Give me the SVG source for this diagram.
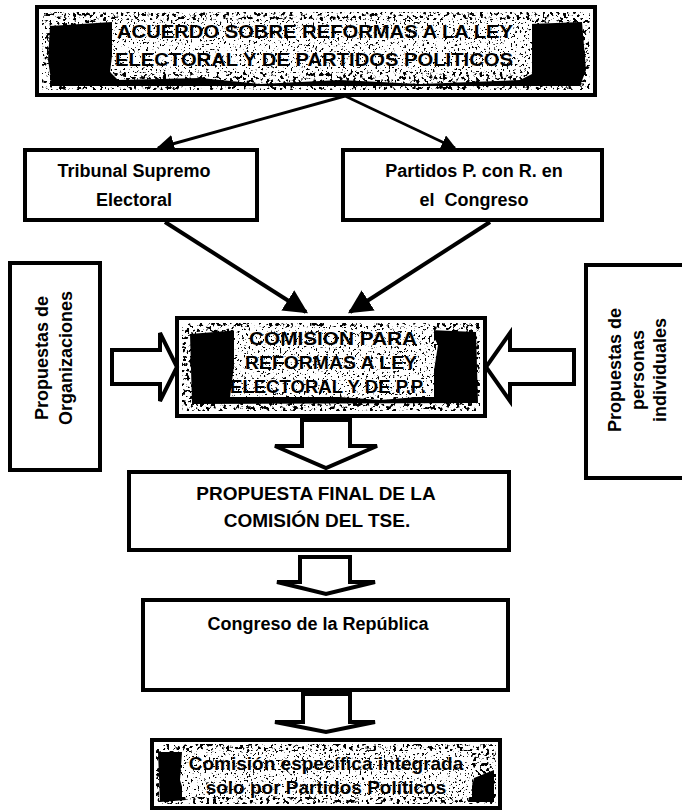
<svg xmlns="http://www.w3.org/2000/svg" width="682" height="812" viewBox="0 0 682 812">
<defs>
<style>
.box{fill:#fff;stroke:#000;stroke-width:4}
.t{font-family:"Liberation Sans",Arial,sans-serif;font-weight:bold;fill:#000;text-anchor:middle}
.big{font-size:19px}
.mid{font-size:18px}
.ln{stroke:#000;fill:none}
.hol{fill:#fff;stroke:#000;stroke-width:4;stroke-linejoin:miter}
.blob{fill:#000}
.dense{fill:#000;filter:url(#nz1)}
.light{fill:#000;filter:url(#nz2)}
</style>
<filter id="nz1" x="0" y="0" width="100%" height="100%" filterUnits="objectBoundingBox">
<feTurbulence type="fractalNoise" baseFrequency="0.3" numOctaves="2" seed="4" result="n"/>
<feColorMatrix in="n" type="matrix" values="0 0 0 0 0  0 0 0 0 0  0 0 0 0 0  14 0 0 0 -7.6"/>
</filter>
<filter id="nz2" x="0" y="0" width="100%" height="100%" filterUnits="objectBoundingBox">
<feTurbulence type="fractalNoise" baseFrequency="0.45" numOctaves="2" seed="9" result="n"/>
<feColorMatrix in="n" type="matrix" values="0 0 0 0 0  0 0 0 0 0  0 0 0 0 0  16 0 0 0 -10"/>
</filter>
<marker id="ah" viewBox="0 0 10 10" refX="9" refY="5" markerWidth="6" markerHeight="6" markerUnits="strokeWidth" orient="auto">
<path d="M0,0 L10,5 L0,10 z" fill="#000"/>
</marker>
</defs>

<g id="n-acuerdo">
<rect class="box" x="37" y="7" width="558" height="88"/>
<rect class="dense" x="42" y="12" width="548" height="78"/>
<path class="blob" d="M50,26 L112,22 L114,40 L110,72 L118,80 L200,78 L260,84 L340,80 L420,84 L520,80 L532,74 L528,40 L530,24 L582,22 L586,70 L580,86 L52,86 L48,60 z"/>
<rect x="112" y="20" width="420" height="52" fill="#fff"/>
<rect class="light" x="112" y="20" width="420" height="52"/>
<text class="t big" x="315" y="38" textLength="396" lengthAdjust="spacingAndGlyphs">ACUERDO SOBRE REFORMAS A LA LEY</text>
<text class="t big" x="314" y="66" textLength="398" lengthAdjust="spacingAndGlyphs">ELECTORAL Y DE PARTIDOS POLITICOS</text>
</g>

<g id="n-tribunal">
<rect class="box" x="25" y="150" width="232" height="70"/>
<text class="t mid" x="134" y="177">Tribunal Supremo</text>
<text class="t mid" x="134" y="206">Electoral</text>
</g>

<g id="n-partidos">
<rect class="box" x="343" y="150" width="259" height="70"/>
<text class="t mid" x="474" y="177">Partidos P. con R. en</text>
<text class="t mid" x="474" y="206" xml:space="preserve">el  Congreso</text>
</g>

<g id="n-organizaciones">
<rect class="box" x="10" y="263" width="90" height="207"/>
<text class="t mid" transform="translate(48,358) rotate(-90)">Propuestas de</text>
<text class="t mid" transform="translate(72,358) rotate(-90)">Organizaciones</text>
</g>

<g id="n-personas">
<rect class="box" x="586" y="265" width="100" height="213"/>
<text class="t mid" transform="translate(621,370) rotate(-90)">Propuestas de</text>
<text class="t mid" transform="translate(644,370) rotate(-90)">personas</text>
<text class="t mid" transform="translate(666,370) rotate(-90)">individuales</text>
</g>

<g id="n-comision">
<rect class="box" x="177" y="318" width="308" height="98"/>
<rect class="dense" x="182" y="323" width="298" height="88"/>
<path class="blob" d="M190,334 L240,330 L236,350 L230,397 L300,394 L380,400 L430,396 L438,345 L430,330 L476,332 L478,403 L192,404 z"/>
<rect x="234" y="327" width="200" height="70" fill="#fff"/>
<rect class="light" x="234" y="327" width="200" height="70"/>
<text class="t" x="333" y="345" font-size="18" textLength="168" lengthAdjust="spacingAndGlyphs">COMISION PARA</text>
<text class="t" x="331" y="369" font-size="18" textLength="172" lengthAdjust="spacingAndGlyphs">REFORMAS A LEY</text>
<text class="t" x="328" y="393" font-size="18" textLength="196" lengthAdjust="spacingAndGlyphs">ELECTORAL Y DE P.P.</text>
</g>

<g id="n-final">
<rect class="box" x="129" y="472" width="380" height="78"/>
<text class="t big" x="316" y="500">PROPUESTA FINAL DE LA</text>
<text class="t big" x="317" y="527">COMISIÓN DEL TSE.</text>
</g>

<g id="n-congreso">
<rect class="box" x="143" y="600" width="365" height="90"/>
<text class="t" x="318" y="630" font-size="18">Congreso de la República</text>
</g>

<g id="n-especifica">
<rect class="box" x="152" y="740" width="348" height="68"/>
<rect class="dense" x="156" y="744" width="340" height="60"/>
<path class="blob" d="M158,752 L182,752 L180,780 L186,800 L160,802 z M474,778 L494,770 L494,802 L468,802 z"/>
<rect x="182" y="751" width="290" height="46" fill="#fff"/>
<rect class="light" x="182" y="751" width="290" height="46"/>
<text class="t" x="326" y="770" font-size="19">Comisión específica integrada</text>
<text class="t" x="326" y="794" font-size="19">solo por Partidos Políticos</text>
</g>

<g id="connectors">
<line class="ln" x1="345" y1="96" x2="158" y2="148" stroke-width="3" marker-end="url(#ah)"/>
<line class="ln" x1="345" y1="96" x2="455" y2="148" stroke-width="2.5" marker-end="url(#ah)"/>
<line class="ln" x1="165" y1="222" x2="306" y2="312" stroke-width="4" marker-end="url(#ah)"/>
<line class="ln" x1="490" y1="222" x2="350" y2="312" stroke-width="4" marker-end="url(#ah)"/>
<path class="hol" d="M112,350 L160,350 L160,333 L177,367 L160,401 L160,384 L112,384 z"/>
<path class="hol" d="M574,350 L510,350 L510,333 L486,367 L510,401 L510,384 L574,384 z"/>
<path class="hol" d="M302,420 L350,420 L350,446 L377,446 L326,468 L275,446 L302,446 z"/>
<path class="hol" d="M300,557 L350,557 L350,582 L375,582 L326,594 L277,582 L300,582 z"/>
<path class="hol" d="M303,694 L350,694 L350,722 L375,722 L326,732 L275,722 L303,722 z"/>
</g>
</svg>
